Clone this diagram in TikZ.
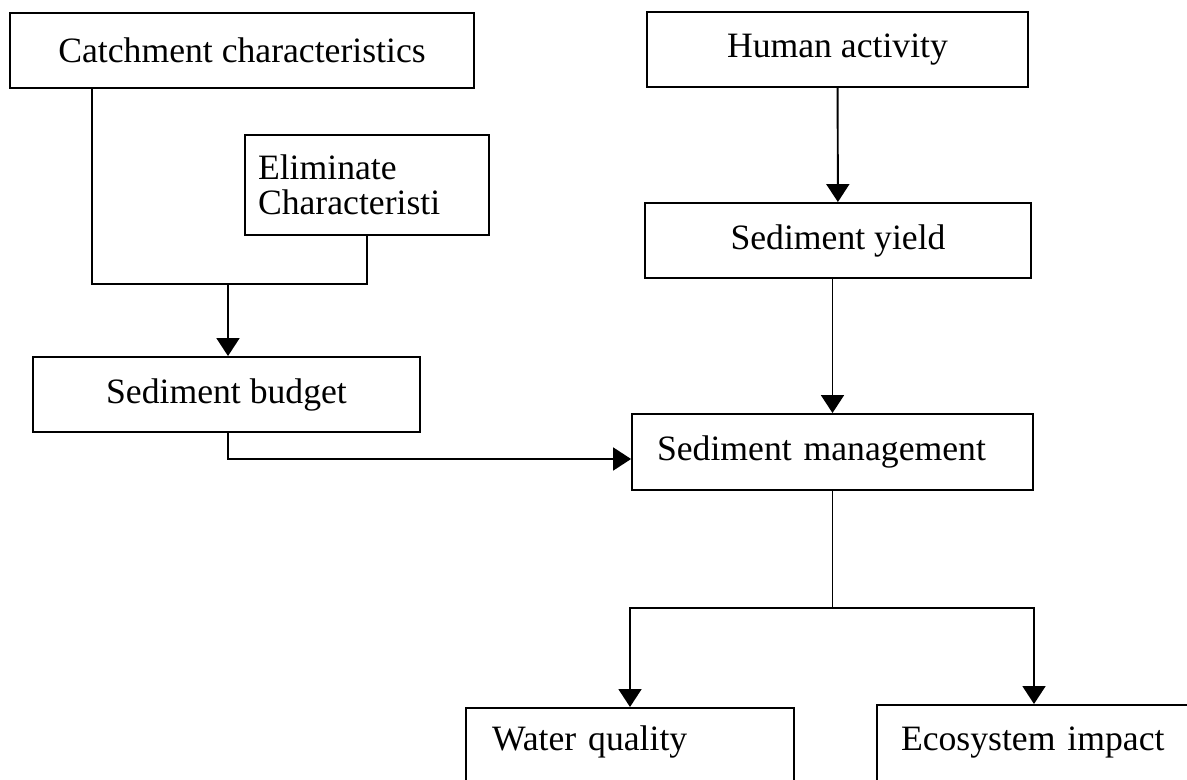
\documentclass[tikz,border=0pt]{standalone}
\usepackage{fontspec}
\setmainfont{Liberation Serif}
\usetikzlibrary{arrows.meta}

\begin{document}
\begin{tikzpicture}[
    x=0.02cm, y=-0.02cm,
    base/.style = {rectangle, draw=black, minimum height=1.5cm,
inner sep=0pt, text centered,
font=\fontsize{20.3}{20}\selectfont},
process/.style = {base, inner xsep=0.5cm, align=left},
>={Triangle[length=0.36cm, width=0.46cm]},
line width=1.1pt
]

  \useasboundingbox (0,0) rectangle (1187,780);

  \node (catch)  [base, minimum width=9.28cm] at (242,50.5) {Catchment characteristics};
  \node (human)  [base, minimum width=7.62cm] at (837.5,49.5) {Human activity};
  \node (elim)   [process, inner xsep=0.26cm, text width=4.36cm, minimum height=2cm] at (367,185) {Eliminate\\Characteristi};
  \node (yield)  [base, minimum width=7.72cm] at (838,240.5) {Sediment yield};
  \node (budget) [base, minimum width=7.74cm] at (226.5,394.5) {Sediment budget};
  \node (manage) [process, text width=7.02cm, minimum height=1.52cm] at (832.5,452) {Sediment management};
  \node (water)  [process, anchor=north, inner xsep=0.52cm, text width=5.52cm,
                  text height=0.86cm, text depth=1cm] at (630,707) {Water quality};
  \node (eco)    [process, anchor=north, inner xsep=0.48cm, text width=5.32cm,
                  text height=0.92cm, text depth=1cm] at (1034,704) {Ecosystem impact};

  \coordinate (split) at (228,284);
  \coordinate (fork) at (833,608);

  \draw (catch.south -| 92,0) |- (split) -| (elim.south);
  \draw[->] (split) -- (split |- budget.north);
  \draw[->] (human) -- (yield);
  \draw[->] (manage.north |- yield.south) -- (manage.north);
  \draw[->] (budget.south -| split) |- ([yshift=-0.14cm]manage.west);
  \draw (manage.south) -- (manage.south |- fork);
  \draw[->] (fork) -| (water.north);
  \draw[->] (fork) -| (eco.north);

\end{tikzpicture}
\end{document}
